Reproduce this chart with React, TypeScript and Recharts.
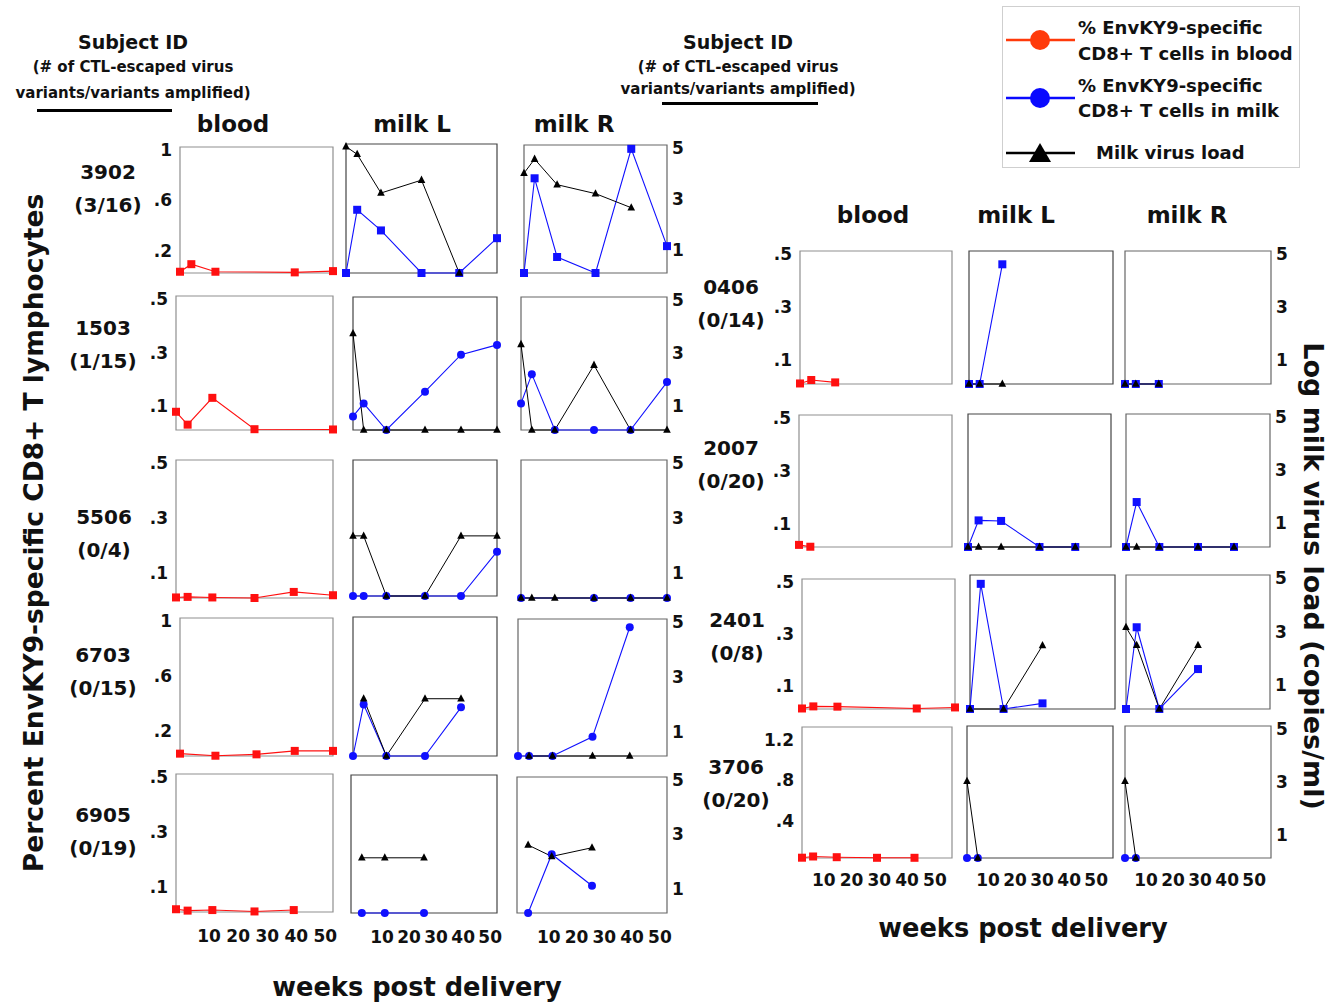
import React from 'react';
import { LineChart, Line, XAxis, YAxis, ReferenceArea } from 'recharts';

const FONT = '"DejaVu Sans", Verdana, sans-serif';
const RED = '#ff1010';
const BLUE = '#1010ff';
const INK = '#111';

// sampling schedule (weeks post delivery)
const weeks = [0, 4, 12.5, 27, 40.5, 54];
const weekTicks = [10, 20, 30, 40, 50];
const loadTicks = [1, 3, 5];

const subjectIds = ['3902', '1503', '5506', '6703', '6905', '0406', '2007', '2401', '3706'];
const escapeRatios = ['(3/16)', '(1/15)', '(0/4)', '(0/15)', '(0/19)', '(0/14)', '(0/20)', '(0/8)', '(0/20)'];
const pctMaxes = [1, 0.5, 0.5, 1, 0.5, 0.5, 0.5, 0.5, 1.3];
const pctTickSets = [
  [0.2, 0.6, 1], [0.1, 0.3, 0.5], [0.1, 0.3, 0.5], [0.2, 0.6, 1], [0.1, 0.3, 0.5],
  [0.1, 0.3, 0.5], [0.1, 0.3, 0.5], [0.1, 0.3, 0.5], [0.4, 0.8, 1.2],
];
const milkMarkers = ['square', 'circle', 'circle', 'circle', 'circle', 'square', 'square', 'square', 'circle'];

// % EnvKY9-specific CD8+ T cells (blood, milk L, milk R) and log milk virus load (milk L, milk R)
const blood3902 = [0.01, 0.07, 0.01, null, 0.005, 0.015];
const milkLPct3902 = [0, 0.49, 0.33, 0, 0, 0.27];
const milkLLoad3902 = [4.9, 4.6, 3.1, 3.6, 0, null];
const milkRPct3902 = [0, 0.74, 0.125, 0, 0.97, 0.21];
const milkRLoad3902 = [3.9, 4.45, 3.45, 3.1, 2.55, null];

const blood1503 = [0.068, 0.02, 0.12, 0.003, null, 0.002];
const milkLPct1503 = [0.051, 0.1, 0, 0.144, 0.283, 0.32];
const milkLLoad1503 = [3.63, 0, 0, 0, 0, 0];
const milkRPct1503 = [0.1, 0.21, 0, 0, 0, 0.18];
const milkRLoad1503 = [3.22, 0, 0, 2.44, 0, 0];

const blood5506 = [0.002, 0.004, 0.002, 0, 0.022, 0.01];
const milkLPct5506 = [0, 0, 0, 0, 0, 0.163];
const milkLLoad5506 = [2.21, 2.21, 0, 0, 2.21, 2.21];
const milkRPct5506 = [0, null, null, 0, 0, 0];
const milkRLoad5506 = [0, 0, 0, 0, 0, 0];

const blood6703 = [0.017, null, 0.002, 0.012, 0.037, 0.037];
const milkLPct6703 = [0, 0.37, 0, 0, 0.35, null];
const milkLLoad6703 = [null, 2.06, 0, 2.06, 2.06, null];
const milkRPct6703 = [0, 0, 0, 0.14, 0.94, null];
const milkRLoad6703 = [null, 0, 0, 0, 0, null];

const blood6905 = [0.01, 0.005, 0.007, 0.002, 0.007, null];
const milkLPct6905 = [null, 0, 0, 0, null, null];
const milkLLoad6905 = [null, 2.0, 2.0, 2.0, null, null];
const milkRPct6905 = [null, 0, 0.216, 0.1, null, null];
const milkRLoad6905 = [null, 2.5, 2.08, 2.4, null, null];

const blood0406 = [0.002, 0.015, 0.006, null, null, null];
const milkLPct0406 = [0, 0, 0.45, null, null, null];
const milkLLoad0406 = [0, 0, 0, null, null, null];
const milkRPct0406 = [0, 0, 0, null, null, null];
const milkRLoad0406 = [0, 0, 0, null, null, null];

const blood2007 = [0.008, 0.001, null, null, null, null];
const milkLPct2007 = [0, 0.1, 0.098, 0, 0, null];
const milkLLoad2007 = [0, 0, 0, 0, 0, null];
const milkRPct2007 = [0, 0.169, 0, 0, 0, null];
const milkRLoad2007 = [0, 0, 0, 0, 0, null];

const blood2401 = [0.002, 0.01, 0.009, null, 0.002, 0.006];
const milkLPct2401 = [0, 0.467, 0, 0.021, null, null];
const milkLLoad2401 = [0, null, 0, 2.37, null, null];
const milkRPct2401 = [0, 0.305, 0, 0.149, null, null];
const milkRLoad2401 = [3.05, 2.38, 0, 2.38, null, null];

const blood3706 = [0.003, 0.015, 0.008, 0.002, 0.002, null];
const milkLPct3706 = [0, 0, null, null, null, null];
const milkLLoad3706 = [2.91, 0, null, null, null, null];
const milkRPct3706 = [0, 0, null, null, null, null];
const milkRLoad3706 = [2.91, 0, null, null, null, null];

const bloodSeries = [blood3902, blood1503, blood5506, blood6703, blood6905, blood0406, blood2007, blood2401, blood3706];
const milkLPctSeries = [milkLPct3902, milkLPct1503, milkLPct5506, milkLPct6703, milkLPct6905, milkLPct0406, milkLPct2007, milkLPct2401, milkLPct3706];
const milkLLoadSeries = [milkLLoad3902, milkLLoad1503, milkLLoad5506, milkLLoad6703, milkLLoad6905, milkLLoad0406, milkLLoad2007, milkLLoad2401, milkLLoad3706];
const milkRPctSeries = [milkRPct3902, milkRPct1503, milkRPct5506, milkRPct6703, milkRPct6905, milkRPct0406, milkRPct2007, milkRPct2401, milkRPct3706];
const milkRLoadSeries = [milkRLoad3902, milkRLoad1503, milkRLoad5506, milkRLoad6703, milkRLoad6905, milkRLoad0406, milkRLoad2007, milkRLoad2401, milkRLoad3706];

// ---- layout (boxes: x, y, w, h of each plot frame) ----
type Box = { x: number; y: number; w: number; h: number };
const layout: { blood: Box; milkL: Box; milkR: Box; label: [number, number] }[] = [
  { blood: { x: 180, y: 147, w: 153, h: 126 }, milkL: { x: 346, y: 144, w: 151, h: 129 }, milkR: { x: 524, y: 145, w: 143, h: 128 }, label: [108, 172] },
  { blood: { x: 176, y: 296, w: 157, h: 134 }, milkL: { x: 353, y: 297, w: 144, h: 133 }, milkR: { x: 521, y: 297, w: 146, h: 133 }, label: [103, 328] },
  { blood: { x: 176, y: 460, w: 157, h: 138 }, milkL: { x: 353, y: 460, w: 144, h: 136 }, milkR: { x: 521, y: 460, w: 146, h: 138 }, label: [104, 517] },
  { blood: { x: 180, y: 618, w: 153, h: 138 }, milkL: { x: 353, y: 617, w: 144, h: 139 }, milkR: { x: 518, y: 619, w: 149, h: 137 }, label: [103, 655] },
  { blood: { x: 176, y: 774, w: 157, h: 138 }, milkL: { x: 351, y: 775, w: 146, h: 138 }, milkR: { x: 517, y: 777, w: 150, h: 136 }, label: [103, 815] },
  { blood: { x: 800, y: 251, w: 152, h: 133 }, milkL: { x: 969, y: 251, w: 144, h: 133 }, milkR: { x: 1125, y: 251, w: 146, h: 133 }, label: [731, 287] },
  { blood: { x: 799, y: 415, w: 153, h: 132 }, milkL: { x: 968, y: 414, w: 143, h: 133 }, milkR: { x: 1126, y: 414, w: 144, h: 133 }, label: [731, 448] },
  { blood: { x: 802, y: 579, w: 153, h: 130 }, milkL: { x: 970, y: 575, w: 145, h: 134 }, milkR: { x: 1126, y: 575, w: 144, h: 134 }, label: [737, 620] },
  { blood: { x: 802, y: 727, w: 150, h: 131 }, milkL: { x: 967, y: 726, w: 146, h: 132 }, milkR: { x: 1125, y: 726, w: 146, h: 132 }, label: [736, 767] },
];

const ML = 60, MR = 40, MT = 14, MB = 44;
const YW = 40, XH = 30;

const fmt = (v: number) => (v < 1 ? String(v).replace(/^0/, '') : String(v));

const YTick = (props: any) => {
  const { x, y, payload, side } = props;
  return (
    <text x={x} y={y} dy={9} textAnchor={side === 'left' ? 'end' : 'start'} fontFamily={FONT}
      fontWeight="bold" fontSize={17} fill={INK}>
      {fmt(payload.value)}
    </text>
  );
};

const XTick = (props: any) => {
  const { x, y, payload, shiftX, shiftY } = props;
  return (
    <text x={x + shiftX} y={y + shiftY} textAnchor="middle" fontFamily={FONT} fontWeight="bold"
      fontSize={17} fill={INK}>
      {payload.value}
    </text>
  );
};

const makeDot = (shape: string, color: string) => (props: any) => {
  const { cx, cy, index } = props;
  const k = `d${index}`;
  if (cx == null || cy == null || isNaN(cx) || isNaN(cy)) return <g key={k} />;
  if (shape === 'square') return <rect key={k} x={cx - 4} y={cy - 4} width={8} height={8} fill={color} />;
  if (shape === 'circle') return <circle key={k} cx={cx} cy={cy} r={4} fill={color} />;
  return <path key={k} d={`M${cx},${cy - 4.5}L${cx + 3.8},${cy + 2.8}L${cx - 3.8},${cy + 2.8}Z`} fill="#000" />;
};

type PanelProps = {
  box: Box; pct: (number | null)[]; load?: (number | null)[]; color: string; marker: string;
  pctMax: number; pctTicks: number[]; showLeft: boolean; showRight: boolean; showX: boolean;
  xShift: number; xDrop: number; border: string;
};

function Panel(p: PanelProps) {
  const rows = weeks.map((w, i) => ({ w, pct: p.pct[i], load: p.load ? p.load[i] : null }));
  const margin = {
    top: MT,
    right: MR - (p.showRight ? YW : 0),
    bottom: MB - (p.showX ? XH : 0),
    left: ML - (p.showLeft ? YW : 0),
  };
  return (
    <div style={{ position: 'absolute', left: p.box.x - ML, top: p.box.y - MT }}>
      <LineChart width={p.box.w + ML + MR} height={p.box.h + MT + MB} data={rows} margin={margin}>
        <XAxis dataKey="w" type="number" domain={[0, 54]} ticks={weekTicks} hide={!p.showX} height={XH}
          axisLine={false} tickLine={false} tickSize={0} tickMargin={0} interval={0}
          tick={<XTick shiftX={p.xShift} shiftY={p.xDrop} />} />
        <YAxis yAxisId="p" domain={[0, p.pctMax]} ticks={p.pctTicks} hide={!p.showLeft} width={YW}
          axisLine={false} tickLine={false} tickSize={0} tickMargin={8} interval={0}
          tick={<YTick side="left" />} />
        <YAxis yAxisId="v" orientation="right" domain={[0, 5]} ticks={loadTicks} hide={!p.showRight} width={YW}
          axisLine={false} tickLine={false} tickSize={0} tickMargin={5} interval={0}
          tick={<YTick side="right" />} />
        <ReferenceArea yAxisId="p" x1={0} x2={54} y1={0} y2={p.pctMax} fill="none" fillOpacity={0}
          stroke={p.border} strokeWidth={1.2} ifOverflow="visible" />
        <Line yAxisId="p" dataKey="pct" stroke={p.color} strokeWidth={1.1} connectNulls
          dot={makeDot(p.marker, p.color)} activeDot={false} isAnimationActive={false} />
        {p.load && (
          <Line yAxisId="v" dataKey="load" stroke="#000" strokeWidth={1} connectNulls
            dot={makeDot('triangle', '#000')} activeDot={false} isAnimationActive={false} />
        )}
      </LineChart>
    </div>
  );
}

const Txt = ({ cx, cy, size, children, anchor = 'middle' }: any) => (
  <div style={{
    position: 'absolute', left: cx, top: cy, transform: anchor === 'middle' ? 'translate(-50%,-50%)' : 'translate(0,-50%)',
    fontFamily: FONT, fontWeight: 'bold', fontSize: size, color: INK, whiteSpace: 'nowrap', lineHeight: 1.1,
  }}>{children}</div>
);

export default function App() {
  return (
    <div style={{ position: 'absolute', left: 0, top: 0, width: 1339, height: 1003, background: '#fff', overflow: 'hidden' }}>
      {/* headers */}
      <Txt cx={133} cy={42} size={19}>Subject ID</Txt>
      <Txt cx={133} cy={67} size={15}>(# of CTL-escaped virus</Txt>
      <Txt cx={133} cy={93} size={15}>variants/variants amplified)</Txt>
      <div style={{ position: 'absolute', left: 37, top: 109, width: 135, height: 3, background: '#000' }} />
      <Txt cx={738} cy={42} size={19}>Subject ID</Txt>
      <Txt cx={738} cy={67} size={15}>(# of CTL-escaped virus</Txt>
      <Txt cx={738} cy={89} size={15}>variants/variants amplified)</Txt>
      <div style={{ position: 'absolute', left: 662, top: 102, width: 156, height: 3, background: '#000' }} />

      <Txt cx={233} cy={125} size={23}>blood</Txt>
      <Txt cx={412} cy={125} size={23}>milk L</Txt>
      <Txt cx={574} cy={125} size={23}>milk R</Txt>
      <Txt cx={873} cy={216} size={23}>blood</Txt>
      <Txt cx={1016} cy={216} size={23}>milk L</Txt>
      <Txt cx={1187} cy={216} size={23}>milk R</Txt>

      {/* subject labels */}
      {subjectIds.map((id, i) => (
        <React.Fragment key={id}>
          <Txt cx={layout[i].label[0]} cy={layout[i].label[1]} size={20}>{id}</Txt>
          <Txt cx={layout[i].label[0]} cy={layout[i].label[1] + 33} size={20}>{escapeRatios[i]}</Txt>
        </React.Fragment>
      ))}

      {/* panels */}
      {subjectIds.map((id, i) => {
        const right = i >= 5;
        const bottom = i === 4 || i === 8;
        const common = {
          pctMax: pctMaxes[i], pctTicks: pctTickSets[i], showX: bottom,
          xShift: right ? -6 : 4, xDrop: right ? 28 : 30,
        };
        return (
          <React.Fragment key={`p${id}`}>
            <Panel {...common} box={layout[i].blood} pct={bloodSeries[i]} color={RED} marker="square"
              showLeft={true} showRight={false} border="#8f8f8f" />
            <Panel {...common} box={layout[i].milkL} pct={milkLPctSeries[i]} load={milkLLoadSeries[i]} color={BLUE}
              marker={milkMarkers[i]} showLeft={false} showRight={false} border="#444" />
            <Panel {...common} box={layout[i].milkR} pct={milkRPctSeries[i]} load={milkRLoadSeries[i]} color={BLUE}
              marker={milkMarkers[i]} showLeft={false} showRight={true} border="#666" />
          </React.Fragment>
        );
      })}

      {/* axis titles */}
      <div style={{
        position: 'absolute', left: 33, top: 533, transform: 'translate(-50%,-50%) rotate(-90deg)',
        fontFamily: FONT, fontWeight: 'bold', fontSize: 26.5, color: INK, whiteSpace: 'nowrap',
      }}>Percent EnvKY9-specific CD8+ T lymphocytes</div>
      <div style={{
        position: 'absolute', left: 1313, top: 576, transform: 'translate(-50%,-50%) rotate(90deg)',
        fontFamily: FONT, fontWeight: 'bold', fontSize: 27, color: INK, whiteSpace: 'nowrap',
      }}>Log milk virus load (copies/ml)</div>
      <Txt cx={417} cy={987} size={25.7}>weeks post delivery</Txt>
      <Txt cx={1023} cy={928} size={25.7}>weeks post delivery</Txt>

      {/* legend */}
      <div style={{ position: 'absolute', left: 1002, top: 6, width: 298, height: 162, border: '1px solid #cfcfcf', boxSizing: 'border-box' }} />
      <svg style={{ position: 'absolute', left: 1000, top: 20 }} width={80} height={150}>
        <line x1={6} x2={75} y1={20} y2={20} stroke="#ff3a0a" strokeWidth={2.5} />
        <circle cx={40} cy={20} r={10} fill="#ff3a0a" />
        <line x1={6} x2={75} y1={78} y2={78} stroke="#0a0aff" strokeWidth={2.5} />
        <circle cx={40} cy={78} r={10} fill="#0a0aff" />
        <line x1={6} x2={75} y1={133} y2={133} stroke="#000" strokeWidth={2.5} />
        <path d="M40,123L51,142L29,142Z" fill="#000" />
      </svg>
      <Txt cx={1078} cy={28} size={18} anchor="start">% EnvKY9-specific</Txt>
      <Txt cx={1078} cy={54} size={18} anchor="start">CD8+ T cells in blood</Txt>
      <Txt cx={1078} cy={86} size={18} anchor="start">% EnvKY9-specific</Txt>
      <Txt cx={1078} cy={111} size={18} anchor="start">CD8+ T cells in milk</Txt>
      <Txt cx={1096} cy={153} size={18} anchor="start">Milk virus load</Txt>
    </div>
  );
}
